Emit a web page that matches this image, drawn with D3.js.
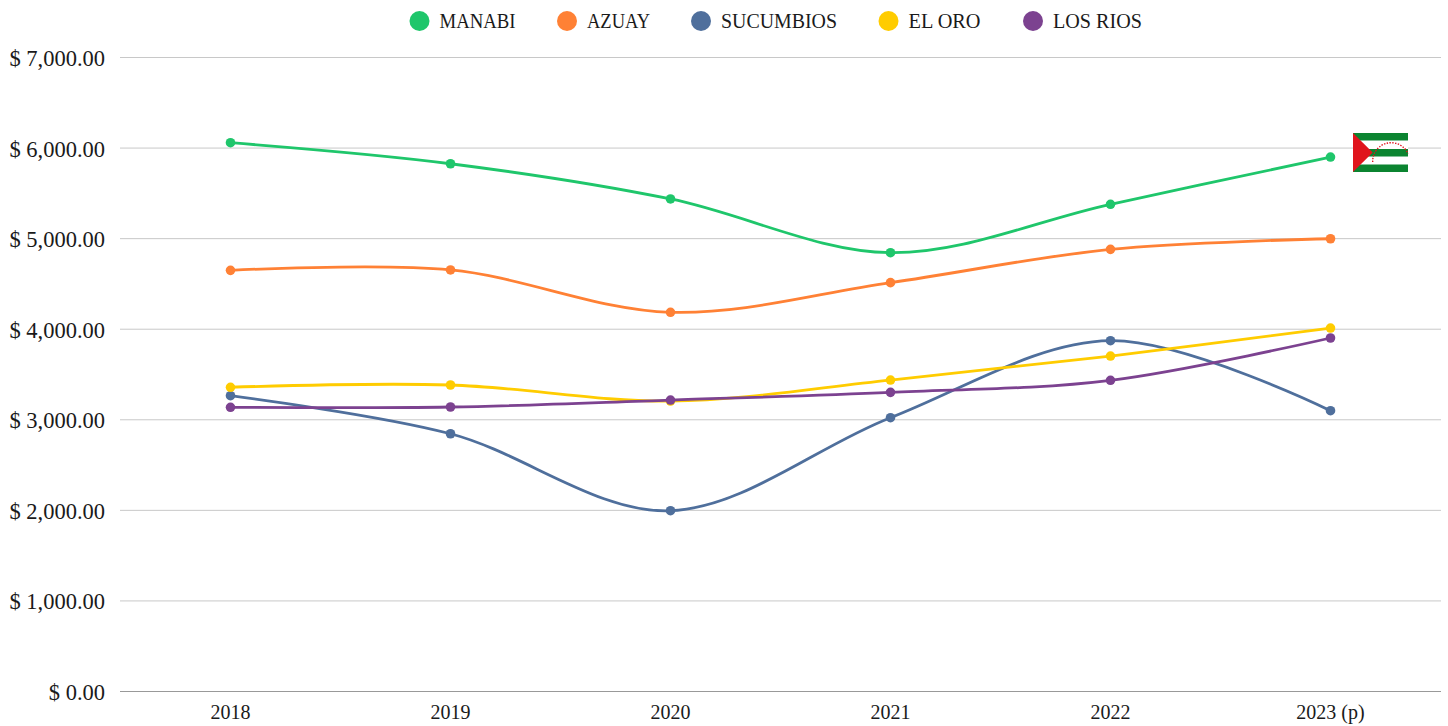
<!DOCTYPE html>
<html>
<head>
<meta charset="utf-8">
<script src="https://d3js.org/d3.v7.min.js"></script>
<style>
  html, body { margin: 0; padding: 0; background: #fff; overflow: hidden; }
  text { font-family: "Liberation Serif", serif; fill: #1a1a1a; }
</style>
</head>
<body>
<div id="chart"></div>
<script>
// chart values
var years = ["2018", "2019", "2020", "2021", "2022", "2023 (p)"];
var yTicks = [0, 1000, 2000, 3000, 4000, 5000, 6000, 7000];

var manabi = [6059, 5827, 5438, 4845, 5379, 5901];
var azuay = [4650, 4654, 4187, 4514, 4882, 4999];
var sucumbios = [3266, 2846, 1996, 3023, 3873, 3100];
var elOro = [3359, 3384, 3207, 3439, 3704, 4013];
var losRios = [3138, 3141, 3218, 3303, 3436, 3903];

var names = ["MANABI", "AZUAY", "SUCUMBIOS", "EL ORO", "LOS RIOS"];
var colors = ["#1fc66b", "#ff8135", "#4f6f9c", "#ffcc00", "#7c4290"];
var seriesValues = [manabi, azuay, sucumbios, elOro, losRios];

var svgWidth = 1448;
var svgHeight = 726;

var svg = d3.select("#chart")
    .append("svg")
    .attr("width", svgWidth)
    .attr("height", svgHeight)
    .style("display", "block");

var x = d3.scalePoint().domain(years).range([120.5, 1440.5]).padding(0.5);
var y = d3.scaleLinear().domain([0, 7000]).range([691.5, 57.5]);

// gridlines and y labels
var yAxis = svg.append("g")
    .attr("transform", "translate(120,0)")
    .call(d3.axisLeft(y).tickValues(yTicks).tickSize(-1321).tickPadding(15).offset(0)
        .tickFormat(function(d) { return "$ " + d3.format(",.2f")(d); }));
yAxis.select(".domain").remove();
yAxis.selectAll("line").attr("stroke", "#c8c8c8");
yAxis.selectAll("text").attr("font-size", "22.5px").attr("dy", "0.38em");
yAxis.selectAll(".tick").filter(function(d) { return d === 0; })
    .select("line").attr("stroke", "#999999");

// x labels
var xAxis = svg.append("g")
    .attr("transform", "translate(0,691.5)")
    .call(d3.axisBottom(x).tickSize(0).tickPadding(13).offset(0));
xAxis.select(".domain").remove();
xAxis.selectAll("text").attr("font-size", "20px");

// lines
var line = d3.line()
    .x(function(d, i) { return x(years[i]); })
    .y(function(d) { return y(d); })
    .curve(d3.curveCardinal.tension(0));

seriesValues.forEach(function(values, s) {
    svg.append("path")
        .attr("d", line(values))
        .attr("fill", "none")
        .attr("stroke", colors[s])
        .attr("stroke-width", 2.8);
    svg.selectAll(".dot" + s)
        .data(values)
        .enter()
        .append("circle")
        .attr("cx", function(d, i) { return x(years[i]); })
        .attr("cy", function(d) { return y(d); })
        .attr("r", 4.8)
        .attr("fill", colors[s]);
});

// legend
var legendCircleX = [419.5, 567, 701, 888.5, 1033];
var legendWidths = [76, 63, 116, 72, 89];
var legend = svg.append("g");
names.forEach(function(name, i) {
    legend.append("circle")
        .attr("cx", legendCircleX[i])
        .attr("cy", 21)
        .attr("r", 10)
        .attr("fill", colors[i]);
    legend.append("text")
        .attr("x", legendCircleX[i] + 20)
        .attr("y", 28)
        .attr("font-size", "20px")
        .attr("textLength", legendWidths[i])
        .attr("lengthAdjust", "spacingAndGlyphs")
        .text(name);
});

// flag next to the last point
var flag = svg.append("g").attr("transform", "translate(1353,133)");
flag.append("rect").attr("width", 55).attr("height", 39).attr("fill", "#fff");
[0, 16, 31.5].forEach(function(top) {
    flag.append("rect").attr("y", top).attr("width", 55).attr("height", 7.5).attr("fill", "#0b8430");
});
flag.append("path")
    .attr("d", "M0,0L19.7,19.5L0,39Z")
    .attr("fill", "#e0141c");
flag.append("path")
    .attr("d", "M19.7,29A18.5,18.5 0 0 1 55,20.5")
    .attr("fill", "none")
    .attr("stroke", "#e0141c")
    .attr("stroke-width", 1.4)
    .attr("stroke-dasharray", "1.4 1.4");
</script>
</body>
</html>
